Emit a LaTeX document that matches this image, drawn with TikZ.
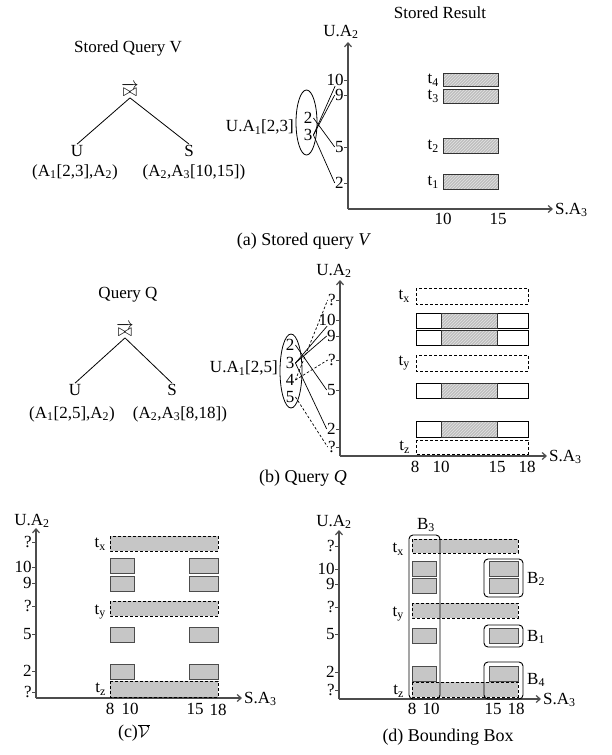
\documentclass[tikz,border=0pt]{standalone}
\usepackage{fontspec}
\setmainfont{Liberation Serif}
\usepackage{tikz}
\usetikzlibrary{arrows.meta,positioning,calc,patterns,shapes.geometric}
\tikzset{
    figlabel/.style={font=\fontsize{17}{19}\selectfont, inner sep=1pt},
    ticklabel/.style={figlabel, anchor=east, inner sep=0pt},
    captiontext/.style={font=\fontsize{18}{20}\selectfont, inner sep=1pt},
    axisline/.style={draw=black!70, line width=1.2pt, -{Straight Barb[length=4pt, width=7pt]}},
    tickline/.style={draw=black!70, line width=0.8pt},
    treeedge/.style={draw, line width=0.8pt},
    linkline/.style={draw, line width=0.7pt},
    linkunknown/.style={linkline, dash pattern=on 2.5pt off 2pt},
    valueset/.style={draw, ellipse, line width=0.8pt, inner sep=0pt},
    hatchbox/.style={draw=black!80, line width=0.9pt, preaction={fill=gray!50}, pattern=north east lines, pattern color=gray!22},
    openbox/.style={draw, line width=0.9pt, fill=white},
    dashbox/.style={draw, line width=0.9pt, dash pattern=on 3pt off 2pt},
    solidgray/.style={draw=black!70, line width=1pt, fill=gray!45},
    dashgray/.style={dashbox, fill=gray!45},
    boundbox/.style={draw, line width=0.9pt, rounded corners=4pt}
}

\begin{document}
\begin{tikzpicture}[x=1pt, y=-1pt]
    \useasboundingbox (0,0) rectangle (612,755);

    % (a) stored query V
    \node[figlabel] (vtitle) at (128,48) {Stored Query V};
    \node[figlabel] (vjoin) at (130,90) {$\overrightarrow{\bowtie}$};
    \node[figlabel] (vu) at (77,151) {U};
    \node[figlabel] (vs) at (189,151) {S};
    \node[figlabel] (vuattr) at (75,172) {(A\textsubscript{1}[2,3],A\textsubscript{2})};
    \node[figlabel] (vsattr) at (194,172) {(A\textsubscript{2},A\textsubscript{3}[10,15])};
    \draw[treeedge] (vjoin.south) -- (vu.north);
    \draw[treeedge] (vjoin.south) -- (vs.north);

    \node[figlabel] (vresult) at (440,13) {Stored Result};
    \coordinate (aorig) at (348,209);
    \coordinate (aytop) at (348,42);
    \coordinate (axend) at (553,209);
    \draw[axisline] (aorig) -- (aytop);
    \draw[axisline] (aorig) -- (axend);
    \node[figlabel] (ayname) at (341,32) {U.A\textsubscript{2}};
    \node[figlabel, anchor=west] (axname) at (554,210) {S.A\textsubscript{3}};
    \draw[tickline] (348,80) -- (344,80) node[ticklabel] (av10) {10};
    \draw[tickline] (348,95) -- (344,95) node[ticklabel] (av9) {9};
    \draw[tickline] (348,147) -- (344,147) node[ticklabel] (av5) {5};
    \draw[tickline] (348,183) -- (344,183) node[ticklabel] (av2) {2};
    \node[figlabel] (ah10) at (443,219) {10};
    \node[figlabel] (ah15) at (498,219) {15};

    \draw[hatchbox] (443,73) rectangle (498,86);
    \draw[hatchbox] (443,89) rectangle (498,103);
    \draw[hatchbox] (443,138) rectangle (498,153);
    \draw[hatchbox] (443,174) rectangle (498,189);
    \node[ticklabel] (at4) at (439,80) {t\textsubscript{4}};
    \node[ticklabel] (at3) at (439,96) {t\textsubscript{3}};
    \node[ticklabel] (at2) at (439,146) {t\textsubscript{2}};
    \node[ticklabel] (at1) at (439,182) {t\textsubscript{1}};

    \node[valueset, minimum width=21pt, minimum height=65pt] (aset) at (306.5,122.5) {};
    \node[figlabel] (a2) at (308,118) {2};
    \node[figlabel] (a3) at (308,135) {3};
    \node[figlabel, anchor=east] (aname) at (295,127) {U.A\textsubscript{1}[2,3]};
    \draw[linkline] (a3.east) -- (av10.south);
    \draw[linkline] (a3.east) -- (av9.west);
    \draw[linkline] (a2.east) -- (av5.west);
    \draw[linkline] (a3.east) -- (av2.west);

    \node[captiontext] (capa) at (304,241) {(a) Stored query \textit{V}};

    % (b) query Q
    \node[figlabel] (qtitle) at (128,295) {Query Q};
    \node[figlabel] (qjoin) at (125,330) {$\overrightarrow{\bowtie}$};
    \node[figlabel] (qu) at (75,390) {U};
    \node[figlabel] (qs) at (172,390) {S};
    \node[figlabel] (quattr) at (72,414) {(A\textsubscript{1}[2,5],A\textsubscript{2})};
    \node[figlabel] (qsattr) at (180,414) {(A\textsubscript{2},A\textsubscript{3}[8,18])};
    \draw[treeedge] (qjoin.south) -- (qu.north);
    \draw[treeedge] (qjoin.south) -- (qs.north);

    \coordinate (borig) at (340,456);
    \coordinate (bytop) at (340,280);
    \coordinate (bxend) at (547,456);
    \draw[axisline] (borig) -- (bytop);
    \draw[axisline] (borig) -- (bxend);
    \node[figlabel] (byname) at (334,271) {U.A\textsubscript{2}};
    \node[figlabel, anchor=west] (bxname) at (548,457) {S.A\textsubscript{3}};
    \draw[tickline] (340,300) -- (336,300) node[ticklabel] (bvq1) {?};
    \draw[tickline] (340,320) -- (336,320) node[ticklabel] (bv10) {10};
    \draw[tickline] (340,336) -- (336,336) node[ticklabel] (bv9) {9};
    \draw[tickline] (340,360) -- (336,360) node[ticklabel] (bvq2) {?};
    \draw[tickline] (340,390) -- (336,390) node[ticklabel] (bv5) {5};
    \draw[tickline] (340,429) -- (336,429) node[ticklabel] (bv2) {2};
    \draw[tickline] (340,447) -- (336,447) node[ticklabel] (bvq3) {?};
    \node[figlabel] (bh8) at (415,467) {8};
    \node[figlabel] (bh10) at (441,467) {10};
    \node[figlabel] (bh15) at (497,467) {15};
    \node[figlabel] (bh18) at (527,467) {18};

    \draw[dashbox] (416,288) rectangle (528,304);
    \draw[openbox] (416,313) rectangle (528,328);
    \draw[hatchbox] (441,313) rectangle (497,328);
    \draw[openbox] (416,330) rectangle (528,345);
    \draw[hatchbox] (441,330) rectangle (497,345);
    \draw[dashbox] (416,355) rectangle (528,371);
    \draw[openbox] (416,383) rectangle (528,398);
    \draw[hatchbox] (441,383) rectangle (497,398);
    \draw[openbox] (416,421) rectangle (528,437);
    \draw[hatchbox] (441,421) rectangle (497,437);
    \draw[dashbox] (416,440) rectangle (528,454);
    \node[ticklabel] (btx) at (410,296) {t\textsubscript{x}};
    \node[ticklabel] (bty) at (410,363) {t\textsubscript{y}};
    \node[ticklabel] (btz) at (410,447) {t\textsubscript{z}};

    \node[valueset, minimum width=22pt, minimum height=74pt] (bset) at (291,371) {};
    \node[figlabel] (b2) at (290,345) {2};
    \node[figlabel] (b3) at (290,363) {3};
    \node[figlabel] (b4) at (290,380) {4};
    \node[figlabel] (b5) at (290,397) {5};
    \node[figlabel, anchor=east] (bname) at (279,368) {U.A\textsubscript{1}[2,5]};
    \draw[linkline] (b3.east) -- (bv10.south);
    \draw[linkline] (b3.east) -- (bv9.west);
    \draw[linkline] (b2.east) -- (bv5.west);
    \draw[linkline] (b3.east) -- (bv2.west);
    \draw[linkunknown] (b4.east) -- (bvq1.west);
    \draw[linkunknown] (b4.east) -- (bvq2.west);
    \draw[linkunknown] (b5.east) -- (bvq3.west);

    \node[captiontext] (capb) at (303,478) {(b) Query \textit{Q}};

    % (c) complement of V
    \coordinate (corig) at (36,698);
    \coordinate (cytop) at (36,528);
    \coordinate (cxend) at (242,698);
    \draw[axisline] (corig) -- (cytop);
    \draw[axisline] (corig) -- (cxend);
    \node[figlabel] (cyname) at (32,521) {U.A\textsubscript{2}};
    \node[figlabel, anchor=west] (cxname) at (243,699) {S.A\textsubscript{3}};
    \draw[tickline] (36,542) -- (32,542) node[ticklabel] (cvq1) {?};
    \draw[tickline] (36,567) -- (32,567) node[ticklabel] (cv10) {10};
    \draw[tickline] (36,583) -- (32,583) node[ticklabel] (cv9) {9};
    \draw[tickline] (36,606) -- (32,606) node[ticklabel] (cvq2) {?};
    \draw[tickline] (36,634) -- (32,634) node[ticklabel] (cv5) {5};
    \draw[tickline] (36,671) -- (32,671) node[ticklabel] (cv2) {2};
    \draw[tickline] (36,692) -- (32,692) node[ticklabel] (cvq3) {?};
    \node[figlabel] (ch8) at (110,709) {8};
    \node[figlabel] (ch10) at (130,709) {10};
    \node[figlabel] (ch15) at (195,709) {15};
    \node[figlabel] (ch18) at (218,710) {18};

    \draw[dashgray] (110,536) rectangle (218,551);
    \draw[solidgray] (110,558) rectangle (134,573);
    \draw[solidgray] (189,558) rectangle (218,573);
    \draw[solidgray] (110,576) rectangle (134,591);
    \draw[solidgray] (189,576) rectangle (218,591);
    \draw[dashgray] (110,601) rectangle (218,616);
    \draw[solidgray] (110,627) rectangle (134,642);
    \draw[solidgray] (189,627) rectangle (218,642);
    \draw[solidgray] (110,664) rectangle (134,679);
    \draw[solidgray] (189,664) rectangle (218,679);
    \draw[dashgray] (110,681) rectangle (218,697);
    \node[ticklabel] (ctx) at (106,544) {t\textsubscript{x}};
    \node[ticklabel] (cty) at (106,612) {t\textsubscript{y}};
    \node[ticklabel] (ctz) at (106,689) {t\textsubscript{z}};

    \node[captiontext] (capc) at (134,733) {(c)$\overline{\mathcal{V}}$};

    % (d) bounding boxes
    \coordinate (dorig) at (339,699);
    \coordinate (dytop) at (339,530);
    \coordinate (dxend) at (541,699);
    \draw[axisline] (dorig) -- (dytop);
    \draw[axisline] (dorig) -- (dxend);
    \node[figlabel] (dyname) at (334,522) {U.A\textsubscript{2}};
    \node[figlabel, anchor=west] (dxname) at (542,700) {S.A\textsubscript{3}};
    \draw[tickline] (339,546) -- (335,546) node[ticklabel] (dvq1) {?};
    \draw[tickline] (339,569) -- (335,569) node[ticklabel] (dv10) {10};
    \draw[tickline] (339,584) -- (335,584) node[ticklabel] (dv9) {9};
    \draw[tickline] (339,607) -- (335,607) node[ticklabel] (dvq2) {?};
    \draw[tickline] (339,634) -- (335,634) node[ticklabel] (dv5) {5};
    \draw[tickline] (339,672) -- (335,672) node[ticklabel] (dv2) {2};
    \draw[tickline] (339,690) -- (335,690) node[ticklabel] (dvq3) {?};
    \node[figlabel] (dh8) at (412,709) {8};
    \node[figlabel] (dh10) at (431,709) {10};
    \node[figlabel] (dh15) at (493,709) {15};
    \node[figlabel] (dh18) at (516,709) {18};

    \draw[dashgray] (412,539) rectangle (518,553);
    \draw[solidgray] (412,561) rectangle (436,576);
    \draw[solidgray] (489,561) rectangle (518,576);
    \draw[solidgray] (412,578) rectangle (436,593);
    \draw[solidgray] (489,578) rectangle (518,593);
    \draw[dashgray] (412,603) rectangle (518,618);
    \draw[solidgray] (412,628) rectangle (436,643);
    \draw[solidgray] (489,628) rectangle (518,643);
    \draw[solidgray] (412,666) rectangle (436,681);
    \draw[solidgray] (489,666) rectangle (518,681);
    \draw[dashgray] (412,682) rectangle (518,697);
    \node[ticklabel] (dtx) at (404,549) {t\textsubscript{x}};
    \node[ticklabel] (dty) at (404,614) {t\textsubscript{y}};
    \node[ticklabel] (dtz) at (404,691) {t\textsubscript{z}};

    \draw[boundbox] (409,535) rectangle (440,699);
    \draw[boundbox] (484,559) rectangle (523,597);
    \draw[boundbox] (484,625) rectangle (523,647);
    \draw[boundbox] (484,662) rectangle (523,699);
    \node[figlabel] (db3) at (426,525) {B\textsubscript{3}};
    \node[figlabel, anchor=west] (db2) at (526,579) {B\textsubscript{2}};
    \node[figlabel, anchor=west] (db1) at (526,637) {B\textsubscript{1}};
    \node[figlabel, anchor=west] (db4) at (526,680) {B\textsubscript{4}};

    \node[captiontext] (capd) at (448,737) {(d) Bounding Box};
\end{tikzpicture}
\end{document}
